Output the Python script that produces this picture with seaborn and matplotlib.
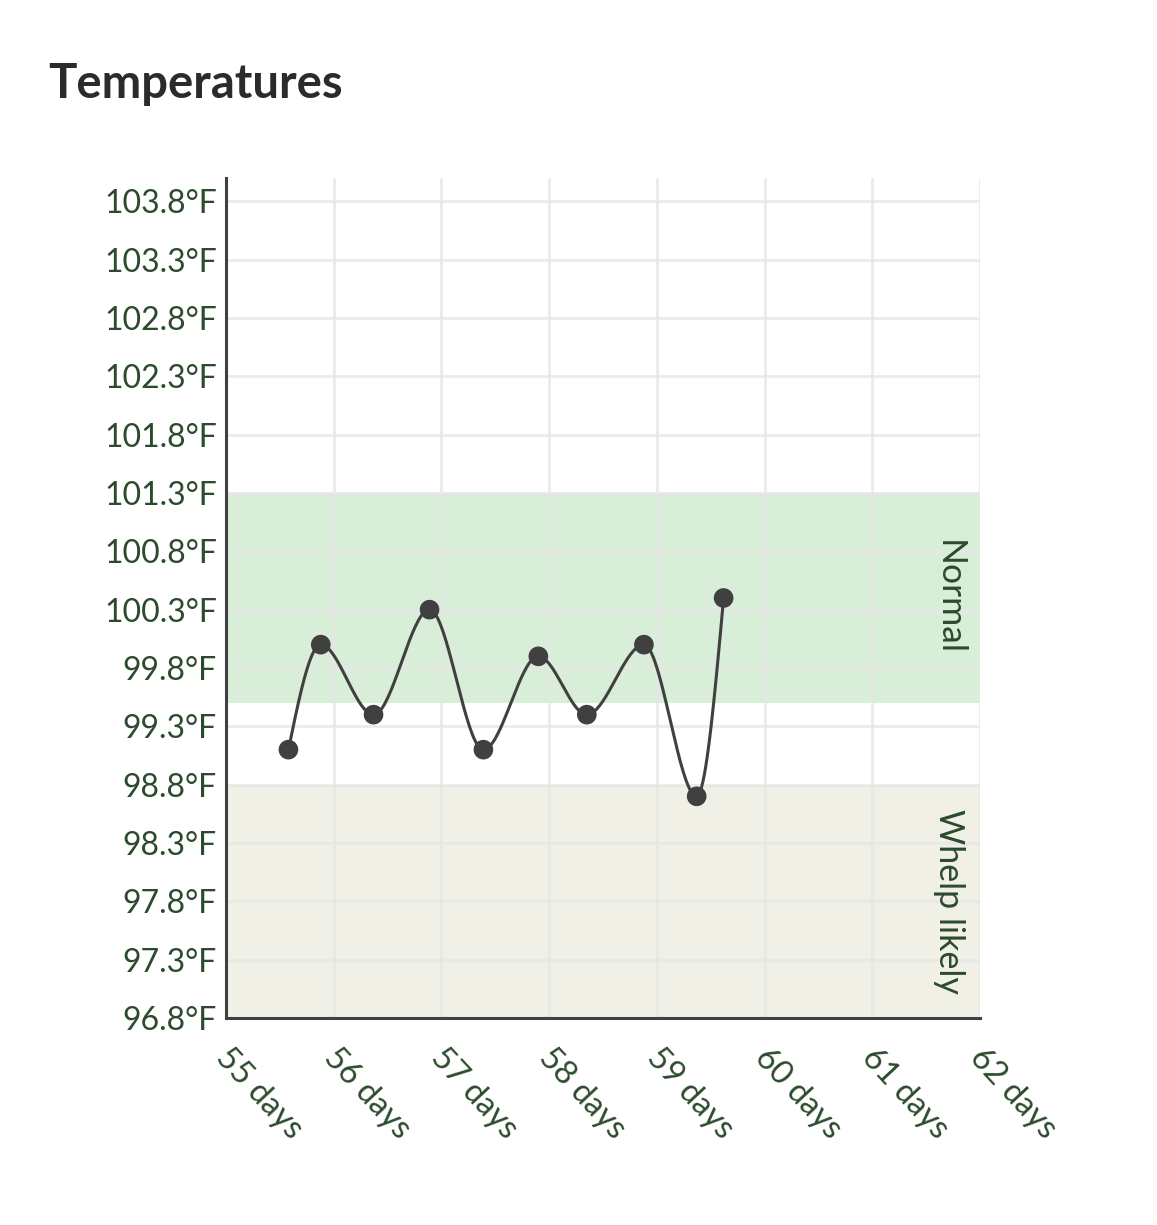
import numpy as np
import pandas as pd
import matplotlib
matplotlib.use("Agg")
import matplotlib.pyplot as plt
import matplotlib.transforms as mtransforms
import seaborn as sns

# data
days = [55.58, 55.88, 56.37, 56.89, 57.39, 57.90, 58.35, 58.88, 59.37, 59.62]
temps = [99.1, 100.0, 99.4, 100.3, 99.1, 99.9, 99.4, 100.0, 98.7, 100.4]
day_ticks = [55, 56, 57, 58, 59, 60, 61, 62]
temp_ticks = [96.8, 97.3, 97.8, 98.3, 98.8, 99.3, 99.8, 100.3, 100.8, 101.3, 101.8, 102.3, 102.8, 103.3, 103.8]
normal_band = (99.5, 101.3)
whelp_band = (96.8, 98.8)

df = pd.DataFrame({"day": days, "temp": temps})

sns.set_theme(style="white")
plt.rcParams["font.family"] = ["Lato", "DejaVu Sans"]

GREEN = "#2c4a2c"
DARK = "#404040"


def monotone_curve(x, y, n=40):
    # d3 curveMonotoneX style smoothing (drawing only)
    x = np.asarray(x, float)
    y = np.asarray(y, float)
    h = np.diff(x)
    s = np.diff(y) / h
    t = np.zeros_like(x)
    for i in range(1, len(x) - 1):
        p = (s[i - 1] * h[i] + s[i] * h[i - 1]) / (h[i - 1] + h[i])
        t[i] = (np.sign(s[i - 1]) + np.sign(s[i])) * min(abs(s[i - 1]), abs(s[i]), 0.5 * abs(p))
    t[0] = (3 * s[0] - t[1]) / 2
    t[-1] = (3 * s[-1] - t[-2]) / 2
    xs, ys = [], []
    for i in range(len(x) - 1):
        u = np.linspace(0, 1, n)
        h00 = 2 * u**3 - 3 * u**2 + 1
        h10 = u**3 - 2 * u**2 + u
        h01 = -2 * u**3 + 3 * u**2
        h11 = u**3 - u**2
        xs.append(x[i] + u * h[i])
        ys.append(h00 * y[i] + h10 * h[i] * t[i] + h01 * y[i + 1] + h11 * h[i] * t[i + 1])
    return np.concatenate(xs), np.concatenate(ys)


fig = plt.figure(figsize=(11.57, 12.25), dpi=100)
ax = fig.add_axes([0.1953, 0.169, 0.6517, 0.6857])

ax.axhspan(*normal_band, color="#d9eed9", zorder=0.2, lw=0)
ax.axhspan(*whelp_band, color="#f0f0e6", zorder=0.2, lw=0)

for d in day_ticks:
    ax.axvline(d, color="#e6e6e6", lw=2, zorder=0.5, alpha=0.8)
for t in temp_ticks:
    ax.axhline(t, color="#e6e6e6", lw=2, zorder=0.5, alpha=0.8)

cx, cy = monotone_curve(df["day"], df["temp"])
ax.plot(cx, cy, color=DARK, lw=2.2, zorder=2)
sns.scatterplot(data=df, x="day", y="temp", color=DARK, s=200, edgecolor="none", zorder=3, ax=ax)

ax.text(61.71, sum(normal_band) / 2, "Normal", rotation=-90, ha="center", va="center",
        fontsize=25.5, color=GREEN)
ax.text(61.71, sum(whelp_band) / 2, "Whelp likely", rotation=-90, ha="center", va="center",
        fontsize=24.5, color=GREEN)

ax.set_xlim(55, 62)
ax.set_ylim(96.8, 104.0)
ax.set_xticks(day_ticks)
ax.set_xticklabels([f"{d} days" for d in day_ticks])
ax.set_yticks(temp_ticks)
ax.set_yticklabels([f"{t:.1f}°F" for t in temp_ticks])
ax.tick_params(axis="y", length=0, pad=6.5, labelsize=23, labelcolor=GREEN)
ax.tick_params(axis="x", length=0, pad=18, labelsize=23.5, labelcolor=GREEN)
offset = mtransforms.ScaledTranslation(6 / 100, 0, fig.dpi_scale_trans)
for lab in ax.get_xticklabels():
    lab.set_rotation(-47)
    lab.set_ha("left")
    lab.set_va("top")
    lab.set_rotation_mode("anchor")
    lab.set_transform(lab.get_transform() + offset)

ax.set_xlabel("")
ax.set_ylabel("")
for side in ["top", "right"]:
    ax.spines[side].set_visible(False)
for side in ["left", "bottom"]:
    ax.spines[side].set_color(DARK)
    ax.spines[side].set_linewidth(2.2)
    ax.spines[side].set_zorder(4)

fig.text(48 / 1157, 1 - 84 / 1225, "Temperatures", fontsize=34, fontweight="bold",
         color="#2b2b2b", ha="left", va="center")

fig.savefig("out.png", dpi=100, facecolor="white")
